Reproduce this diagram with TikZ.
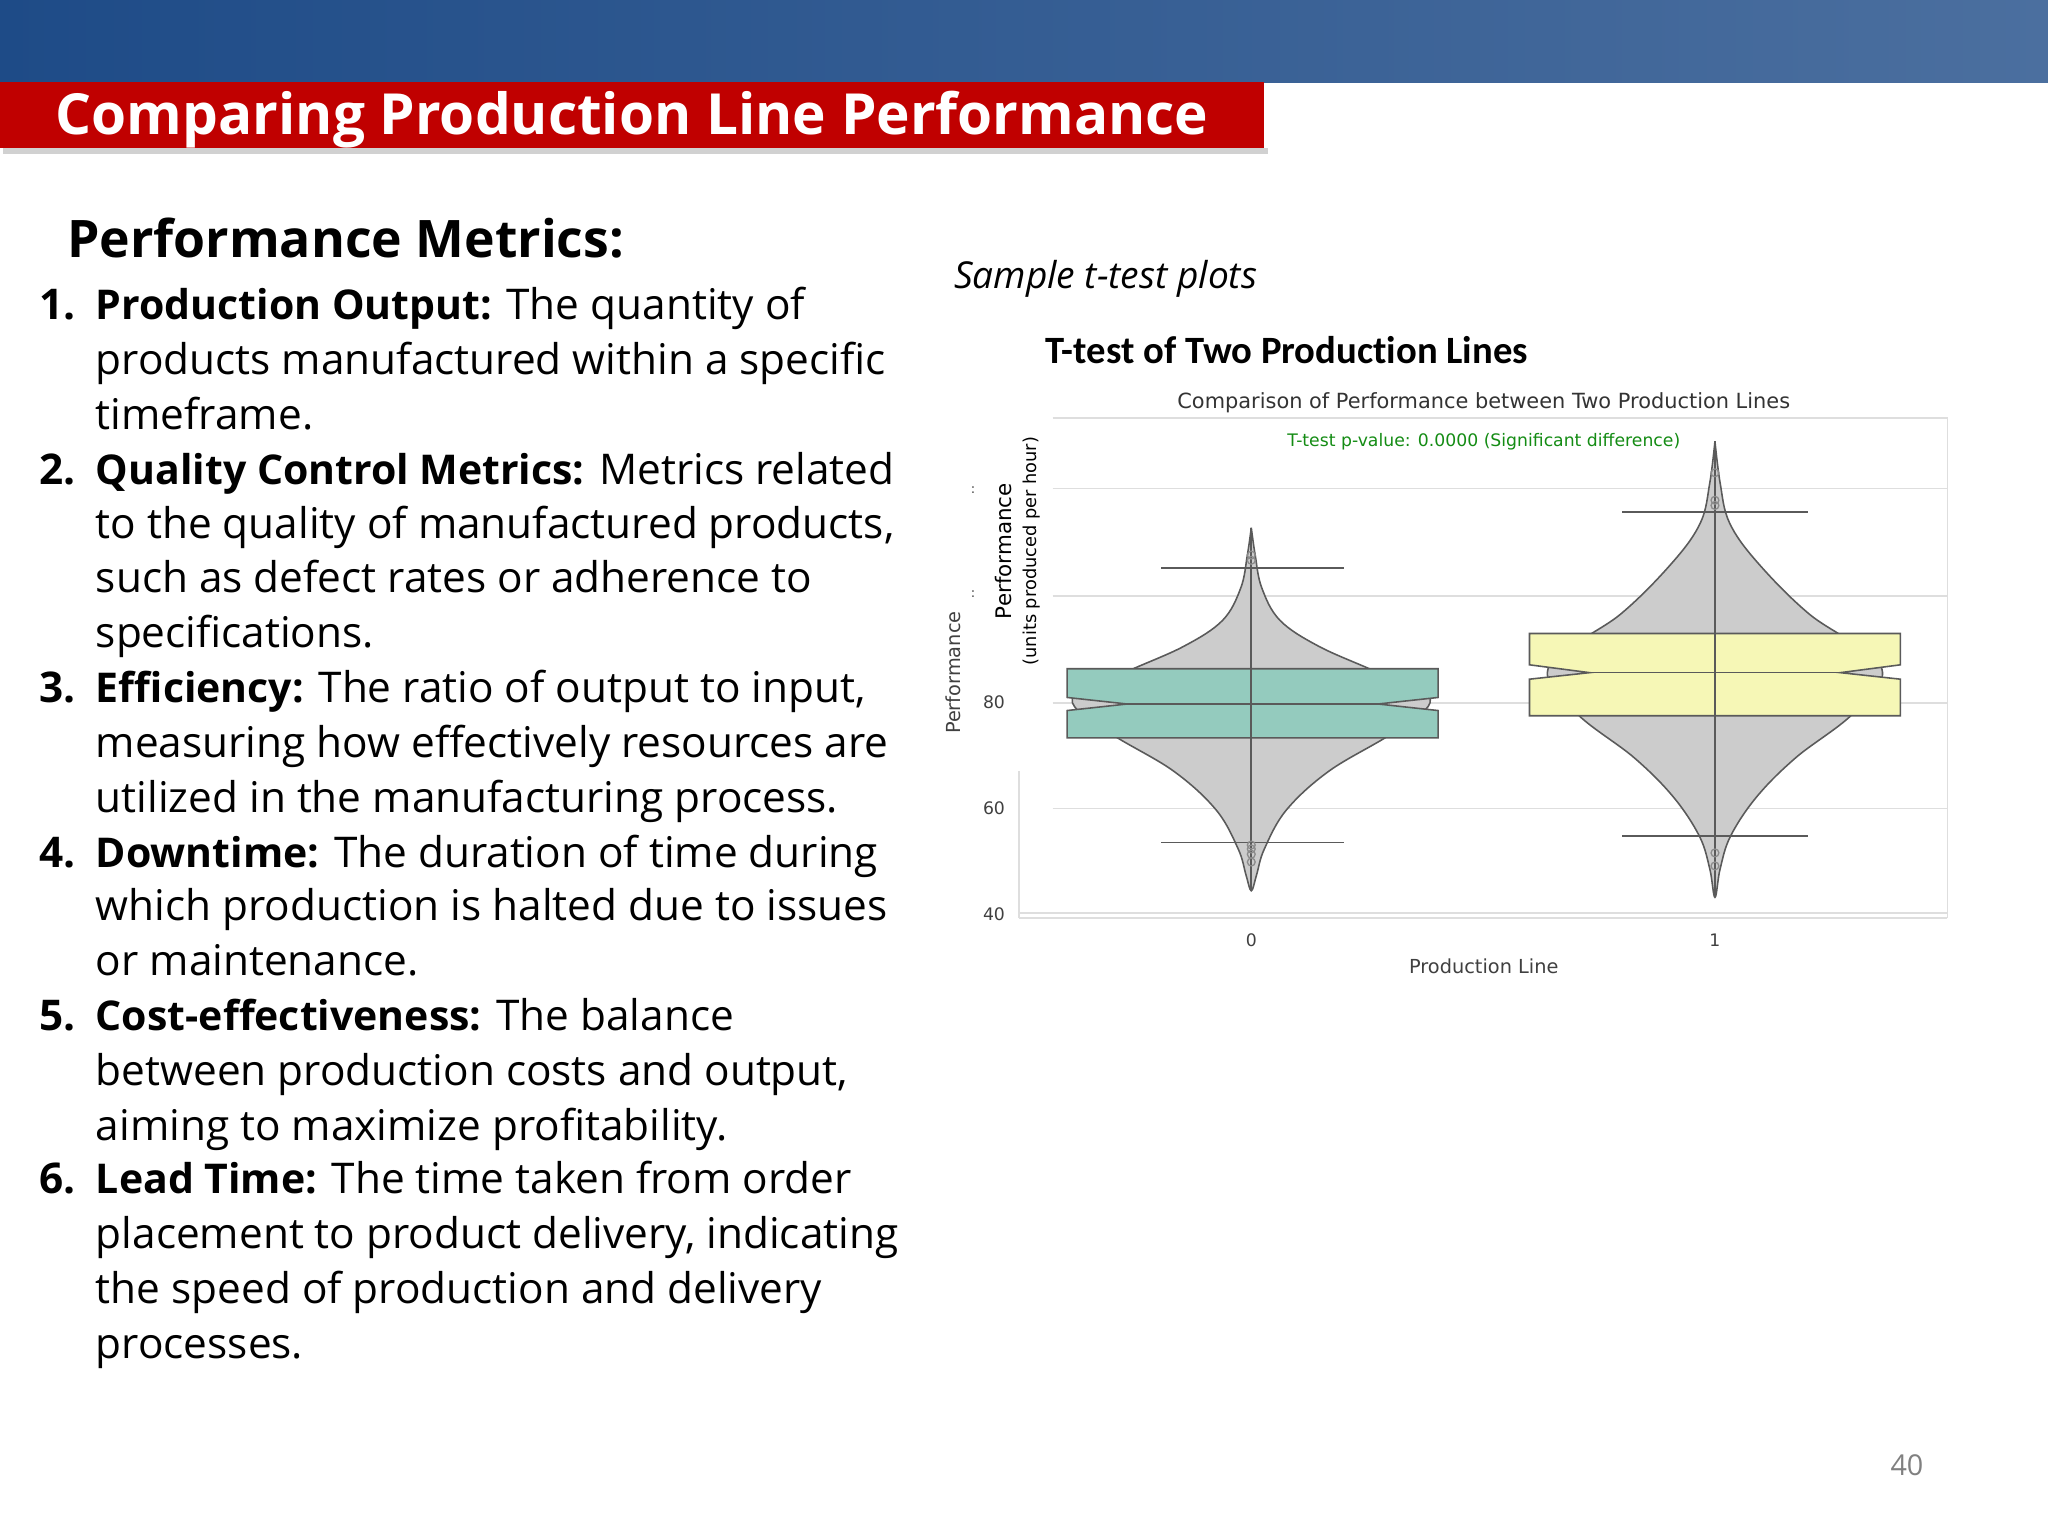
\documentclass[tikz,border=0pt]{standalone}
\usepackage{fontspec}
\setmainfont{Open Sans}
\newfontfamily\djv{DejaVu Sans}
\newfontfamily\crl[Ligatures=NoCommon]{Carlito}
\definecolor{hdrblue}{RGB}{30,75,135}
\definecolor{hdrred}{RGB}{192,0,0}
\definecolor{vgray}{RGB}{204,204,204}
\definecolor{vline}{RGB}{90,90,90}
\definecolor{teal}{RGB}{148,203,190}
\definecolor{pyellow}{RGB}{246,247,182}
\definecolor{ggreen}{RGB}{20,140,20}
\definecolor{gridc}{RGB}{222,222,222}
\newcommand\lead[1]{{\fontsize{15.7}{19}\selectfont\bfseries #1}}
\tikzset{
 bodyt/.style={anchor=base west,inner sep=0pt,font=\fontsize{16.2}{19}\selectfont},
 numt/.style={anchor=base west,inner sep=0pt,font=\fontsize{16.2}{19}\selectfont\bfseries},
 tick/.style={inner sep=0pt,font=\djv\fontsize{6.6}{8}\selectfont,text=black!75},
 viol/.style={fill=vgray,draw=vline,line width=0.6pt},
 boxs/.style={draw=vline,line width=0.6pt},
 wline/.style={draw=vline,line width=0.6pt},
 grid/.style={draw=gridc,line width=0.7pt}
}
\begin{document}
\begin{tikzpicture}[x=0.5pt,y=-0.5pt]
\useasboundingbox (0,0) rectangle (1568,1176);
\fill[white] (0,0) rectangle (1568,1176);
% header
\shade[left color=hdrblue,right color=hdrblue!80!white] (0,0) rectangle (1568,63);
\fill[black!18] (2,113) rectangle (971,118);
\fill[hdrred] (0,63) rectangle (968,113);
\node[text=white,font=\fontsize{21.7}{25}\selectfont\bfseries,anchor=base,inner sep=0pt] (title) at (484,103) {Comparing Production Line Performance};
% left text
\node[anchor=base west,inner sep=0pt,font=\fontsize{19.8}{23}\selectfont\bfseries] (pm) at (51,197) {Performance Metrics:};
\node[numt] (n1) at (30,245) {1.};
\node[bodyt] (l1) at (73,245) {\lead{Production Output:} The quantity of};
\node[bodyt] (l2) at (73,287) {products manufactured within a specific};
\node[bodyt] (l3) at (73,329) {timeframe.};
\node[numt] (n2) at (30,371) {2.};
\node[bodyt] (l4) at (73,371) {\lead{Quality Control Metrics:} Metrics related};
\node[bodyt] (l5) at (73,412) {to the quality of manufactured products,};
\node[bodyt] (l6) at (73,454) {such as defect rates or adherence to};
\node[bodyt] (l7) at (73,496) {specifications.};
\node[numt] (n3) at (30,538) {3.};
\node[bodyt] (l8) at (73,538) {\lead{Efficiency:} The ratio of output to input,};
\node[bodyt] (l9) at (73,580) {measuring how effectively resources are};
\node[bodyt] (l10) at (73,622) {utilized in the manufacturing process.};
\node[numt] (n4) at (30,664) {4.};
\node[bodyt] (l11) at (73,664) {\lead{Downtime:} The duration of time during};
\node[bodyt] (l12) at (73,705) {which production is halted due to issues};
\node[bodyt] (l13) at (73,747) {or maintenance.};
\node[numt] (n5) at (30,789) {5.};
\node[bodyt] (l14) at (73,789) {\lead{Cost-effectiveness:} The balance};
\node[bodyt] (l15) at (73,831) {between production costs and output,};
\node[bodyt] (l16) at (73,873) {aiming to maximize profitability.};
\node[numt] (n6) at (30,914) {6.};
\node[bodyt] (l17) at (73,914) {\lead{Lead Time:} The time taken from order};
\node[bodyt] (l18) at (73,956) {placement to product delivery, indicating};
\node[bodyt] (l19) at (73,998) {the speed of production and delivery};
\node[bodyt] (l20) at (73,1040) {processes.};
% right captions
\node[anchor=base west,inner sep=0pt,font=\fontsize{14.2}{17}\selectfont\itshape] (samp) at (730,221) {Sample t-test plots};
\node[anchor=base west,inner sep=0pt,font=\crl\fontsize{14.8}{17}\selectfont\bfseries] (tt) at (800,278) {T-test of Two Production Lines};
% chart
\draw[grid] (806,320) -- (1491,320) -- (1491,703);
\draw[grid] (780,703) -- (1491,703);
\draw[grid] (780,699) -- (1491,699);
\draw[grid] (780,703) -- (780,590);
\foreach \yy in {374,456,538,619} \draw[grid] (806,\yy) -- (1491,\yy);
\node[tick] (t80) at (761,538) {80};
\node[tick] (t60) at (761,619) {60};
\node[tick] (t40) at (761,700) {40};
\node[tick] (x0) at (958,720) {0};
\node[tick] (x1) at (1313,720) {1};
\node[tick,font=\djv\fontsize{7.4}{9}\selectfont] (xl) at (1136,740) {Production Line};
\node[tick,rotate=90,font=\djv\fontsize{7.4}{9}\selectfont] (yl) at (730,515) {Performance};
\node[tick,rotate=90,text=black,font=\djv\fontsize{8.2}{9}\selectfont] (yl2) at (768,422) {Performance};
\node[tick,rotate=90,text=black,font=\djv\fontsize{6.8}{8}\selectfont] (yl3) at (790,422) {(units produced per hour)};
\node[tick,font=\djv\fontsize{5}{6}\selectfont] (c1) at (745,375) {:};
\node[tick,font=\djv\fontsize{5}{6}\selectfont] (c2) at (745,455) {:};
\node[tick,font=\djv\fontsize{8}{9}\selectfont,text=black!80] (ct) at (1136,308) {Comparison of Performance between Two Production Lines};
\node[tick,font=\djv\fontsize{6.6}{8}\selectfont,text=ggreen] (pv) at (1136,338) {T-test p-value: 0.0000 (Significant difference)};
% violin 0
\draw[viol] plot[smooth,tension=0.6] coordinates {(958,404)(961,425)(966,450)(980,475)(1010,495)(1055,515)(1095,535)(1068,560)(1018,590)(985,620)(968,650)(962,670)(958,682)(954,670)(948,650)(931,620)(898,590)(848,560)(821,535)(861,515)(906,495)(936,475)(950,450)(955,425)(958,404)};
\draw[wline] (958,404) -- (958,682);
\draw[wline] (889,435) -- (1029,435);
\draw[wline] (889,645) -- (1029,645);
\foreach \yy in {425,429,647,650,654,660} \draw[vline!70,line width=0.5pt] (958,\yy) circle (3);
\draw[boxs,fill=teal] (817,512) -- (1101,512) -- (1101,534) -- (1055,539) -- (1101,544) -- (1101,565) -- (817,565) -- (817,544) -- (863,539) -- (817,534) -- cycle;
\draw[wline] (863,539) -- (1055,539);
\draw[wline] (958,512) -- (958,565);
% violin 1
\draw[viol] plot[smooth,tension=0.6] coordinates {(1313,338)(1317,370)(1324,400)(1345,430)(1385,470)(1440,510)(1420,545)(1375,580)(1345,610)(1325,640)(1317,665)(1313,687)(1309,665)(1301,640)(1281,610)(1251,580)(1206,545)(1186,510)(1241,470)(1281,430)(1302,400)(1309,370)(1313,338)};
\draw[wline] (1313,338) -- (1313,687);
\draw[wline] (1242,392) -- (1384,392);
\draw[wline] (1242,640) -- (1384,640);
\foreach \yy in {362,383,387,653,663} \draw[vline!70,line width=0.5pt] (1313,\yy) circle (3);
\draw[boxs,fill=pyellow] (1171,485) -- (1455,485) -- (1455,509) -- (1409,515) -- (1455,520) -- (1455,548) -- (1171,548) -- (1171,520) -- (1217,515) -- (1171,509) -- cycle;
\draw[wline] (1217,515) -- (1409,515);
\draw[wline] (1313,485) -- (1313,548);
% page number
\node[anchor=center,inner sep=0pt,text=black!50,font=\fontsize{11}{13}\selectfont] (pg) at (1460,1122) {40};
\end{tikzpicture}
\end{document}
